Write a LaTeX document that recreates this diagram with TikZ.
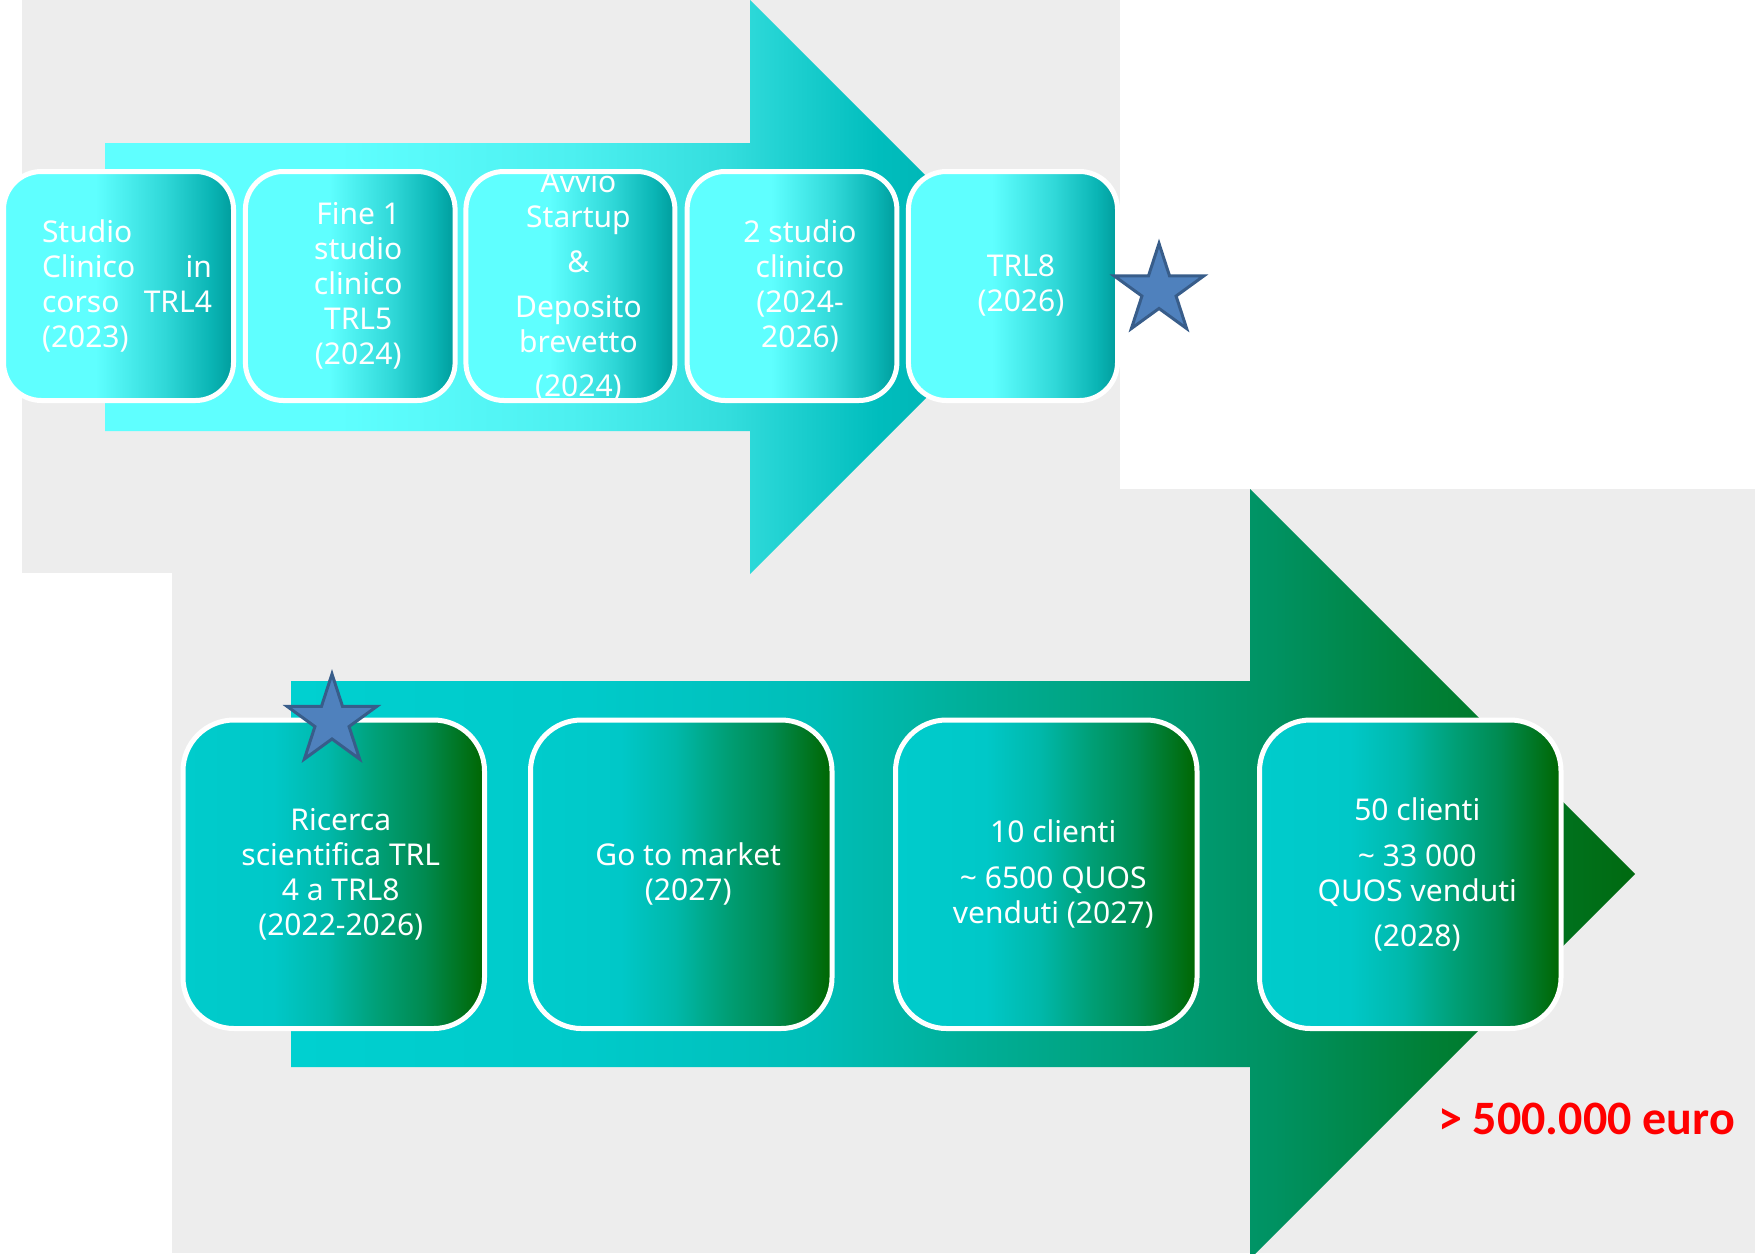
\documentclass[tikz,border=0pt]{standalone}
\usepackage{fontspec}
\setmainfont{Noto Sans}
\newfontfamily\redfont{Carlito}
\usetikzlibrary{shapes.geometric}

\definecolor{bggray}{HTML}{EDEDED}
\definecolor{ta0}{HTML}{5FFFFF}
\definecolor{ta1}{HTML}{4DF0F0}
\definecolor{ta2}{HTML}{33DDDD}
\definecolor{ta3}{HTML}{00BDBD}
\definecolor{ta4}{HTML}{00AAAA}
\definecolor{tb0}{HTML}{5FFFFF}
\definecolor{tb1}{HTML}{30D8D8}
\definecolor{tb2}{HTML}{0AB5B5}
\definecolor{tb3}{HTML}{009C9C}
\definecolor{ba0}{HTML}{00D0D0}
\definecolor{ba1}{HTML}{00CACA}
\definecolor{ba2}{HTML}{00BEB8}
\definecolor{ba3}{HTML}{00A88A}
\definecolor{ba4}{HTML}{009262}
\definecolor{ba5}{HTML}{007F35}
\definecolor{ba6}{HTML}{006A10}
\definecolor{bb0}{HTML}{00CCCC}
\definecolor{bb1}{HTML}{00C8C8}
\definecolor{bb2}{HTML}{00B8AA}
\definecolor{bb3}{HTML}{00A078}
\definecolor{bb4}{HTML}{008A50}
\definecolor{bb5}{HTML}{006600}
\definecolor{starfill}{HTML}{4F81BD}
\definecolor{starline}{HTML}{385D8A}

\pgfdeclarehorizontalshading{tarrow}{100bp}{color(0bp)=(ta0); color(25bp)=(ta0); color(37.5bp)=(ta0); color(50bp)=(ta1); color(58.5bp)=(ta2); color(66.5bp)=(ta3); color(75bp)=(ta4); color(100bp)=(ta4)}
\pgfdeclarehorizontalshading{tbox}{100bp}{color(0bp)=(tb0); color(25bp)=(tb0); color(45bp)=(tb0); color(60bp)=(tb1); color(70bp)=(tb2); color(75bp)=(tb3); color(100bp)=(tb3)}
\pgfdeclarehorizontalshading{barrow}{100bp}{color(0bp)=(ba0); color(25bp)=(ba0); color(36bp)=(ba1); color(44.5bp)=(ba2); color(53bp)=(ba3); color(61.5bp)=(ba4); color(67.5bp)=(ba5); color(75bp)=(ba6); color(100bp)=(ba6)}
\pgfdeclarehorizontalshading{bbox}{100bp}{color(0bp)=(bb0); color(25bp)=(bb0); color(40bp)=(bb1); color(49bp)=(bb2); color(57bp)=(bb3); color(65bp)=(bb4); color(75bp)=(bb5); color(100bp)=(bb5)}

\tikzset{
  topbox/.style={shade, shading=tbox, draw=white, line width=5pt, rounded corners=38pt,
    minimum height=229pt, inner sep=0pt},
  botbox/.style={shade, shading=bbox, draw=white, line width=5pt, rounded corners=51pt,
    minimum width=301.5pt, minimum height=308.5pt, inner sep=0pt},
  txt/.style={text=white, font=\fontsize{30}{35}\selectfont, align=center, inner sep=0pt},
  starmark/.style={star, star points=5, star point ratio=2.618, minimum size=94pt,
    inner sep=0pt, fill=starfill, draw=starline, line width=3pt},
}

\begin{document}
\begin{tikzpicture}[x=1pt,y=-1pt]
\useasboundingbox (0,0) rectangle (1763,1253);
% backgrounds
\fill[bggray] (22,0) rectangle (1120,573);
\fill[bggray] (172,489) rectangle (1755,1253);
% arrows
\shade[shading=barrow] (291,681) -- (1250,681) -- (1250,489) -- (1635,874) -- (1250,1259) -- (1250,1067) -- (291,1067) -- cycle;
\shade[shading=tarrow] (105,143) -- (750,143) -- (750,0) -- (1037,287) -- (750,574) -- (750,431) -- (105,431) -- cycle;

% top boxes
\node[topbox, minimum width=230pt] (b1) at (118.5,286) {};
\node[topbox, minimum width=209.7pt] (b2) at (350.25,286) {};
\node[topbox, minimum width=209pt] (b3) at (570.4,286) {};
\node[topbox, minimum width=209.8pt] (b4) at (792,286) {};
\node[topbox, minimum width=209.1pt] (b5) at (1012.95,286) {};

\node[txt, align=left, text width=170pt] (t1) at ([xshift=8.5pt]b1.center)
  {Studio\\Clinico\hfill in\\corso\hfill TRL4\\(2023)};
\node[txt] (t2) at ([xshift=8pt]b2.center) {Fine 1\\studio\\clinico\\TRL5\\(2024)};
\node[txt] (t3) at ([xshift=8pt]b3.center)
  {Avvio\\Startup\\[10pt]\&\\[10pt]Deposito\\brevetto\\[9pt](2024)};
\node[txt] (t4) at ([xshift=8pt]b4.center) {2 studio\\clinico\\(2024-\\2026)};
\node[txt] (t5) at ([xshift=8pt]b5.center) {TRL8\\(2026)};

\node[starmark] (s1) at (1159,290.5) {};

% bottom boxes
\node[botbox] (c1) at (333.75,874.25) {};
\node[botbox] (c2) at (681.25,874.25) {};
\node[botbox] (c3) at (1046.25,874.25) {};
\node[botbox] (c4) at (1410.25,874.25) {};

\node[txt] (u1) at ([xshift=7pt]c1.center) {Ricerca\\scientifica TRL\\4 a TRL8\\(2022-2026)};
\node[txt] (u2) at ([xshift=7pt]c2.center) {Go to market\\(2027)};
\node[txt] (u3) at ([xshift=7pt]c3.center) {10 clienti\\[11pt]\textasciitilde{} 6500 QUOS\\venduti (2027)};
\node[txt] (u4) at ([xshift=7pt]c4.center) {50 clienti\\[11pt]\textasciitilde{} 33 000\\QUOS venduti\\[10pt](2028)};

\node[starmark] (s2) at (332,721) {};

\node[anchor=base west, inner sep=0pt, text=red,
  font=\redfont\bfseries\fontsize{48}{52}\selectfont] (money) at (1438,1134) {> 500.000 euro};
\end{tikzpicture}
\end{document}
